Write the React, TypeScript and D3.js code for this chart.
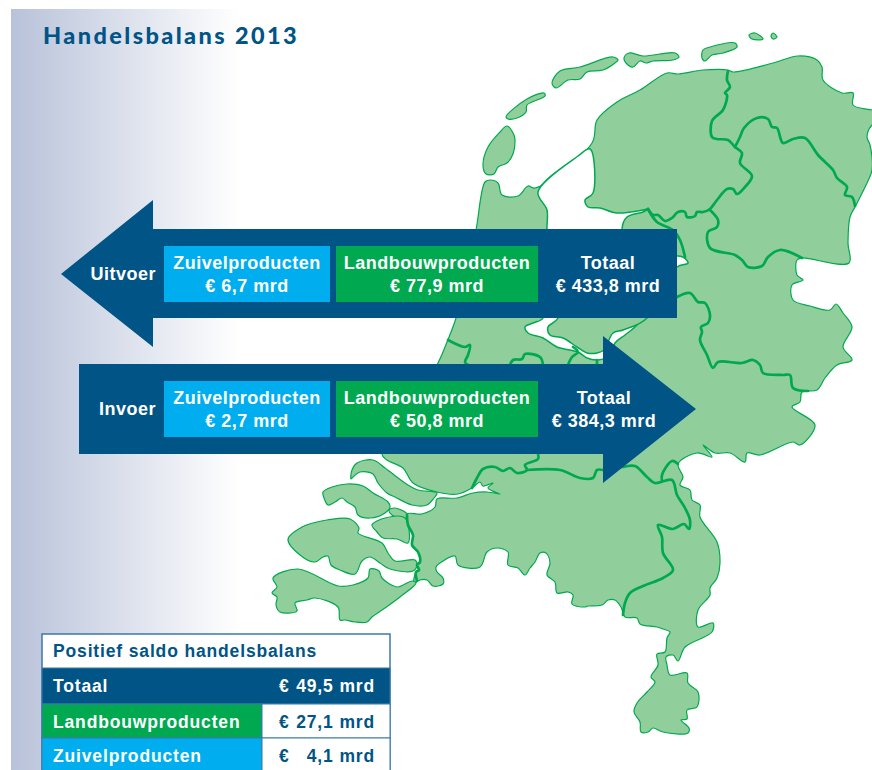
import React from "react";
import * as d3 from "d3";

type Pt = [number, number];

// traced province map of the Netherlands, in picture pixels
const mainland: Pt[] = [
  [592,143],[597,120],[617,102],[640,90],[667,73],[678,74],[703,70],[728,70],[733,72],[773,63],[798,56],[817,60],[822,67],[823,80],[842,93],[853,93],[853,105],[872,110],[882,112],[882,120],[872,125],[867,137],[870,145],[872,170],[867,183],[855,207],[850,217],[848,243],[849,263],
  [802,258],[797,260],[797,275],[803,280],[792,285],[793,300],[810,306],[830,310],[836,304],[843,313],[852,327],[843,347],[852,360],[837,365],[825,378],[817,390],[802,392],[800,402],[792,407],[815,425],[800,445],[793,442],[760,455],[747,453],[745,462],[730,453],[715,453],[703,445],[712,457],[697,453],[678,464],[683,477],[680,485],[690,490],[692,500],[700,505],[700,517],
  [717,542],[720,563],[717,578],[710,588],[710,595],[698,610],[698,627],[713,623],[712,632],[685,647],[678,661],[673,655],[666,657],[667,665],[670,675],[687,673],[688,683],[698,692],[697,707],[687,710],[687,719],[681,720],[689,728],[688,733],[663,732],[653,728],[648,732],[641,732],[640,722],[634,712],[637,703],[647,692],[655,682],[651,677],[658,665],[657,654],[665,652],[667,638],[670,632],[663,629],[657,627],[640,624],[637,618],[625,617],[621,607],[615,600],[608,600],[602,605],[588,606],[585,607],[572,604],[573,595],[568,592],[557,593],[555,582],[547,575],[550,563],[546,553],[540,553],[535,562],[530,568],[525,575],[518,568],[508,565],[508,552],[497,548],[487,552],[480,567],[458,565],[455,556],[440,563],[436,567],[437,572],[443,578],[443,584],[433,586],[427,580],[420,580],[414,583],
  [416,572],[419,570],[417,565],[420,562],[418,552],[412,545],[413,535],[408,525],[407,514],[422,514],[435,507],[437,499],[457,498],[473,493],[487,492],[500,494],[495,492],[488,488],[493,483],[483,486],[480,482],[472,488],[458,494],[437,492],[413,483],[403,468],[387,460],[382,454],
  [438,363],[447,342],[456,318],[467,270],[476,230],[485,182],[490,180],[498,183],[502,195],[518,196],[528,186],[535,188],
];
const lake: Pt[] = [
  [538,192],[578,156],[590,149],[593,193],[585,200],[588,207],[600,208],[617,213],[643,210],[648,209],[643,212],[627,217],[622,229],[626,245],[670,255],[683,257],[688,263],[677,267],[655,300],[637,325],[625,335],[615,343],[610,355],[598,360],[587,358],[578,352],[557,347],[543,338],[528,333],[525,327],[533,323],[543,318],[540,290],[550,250],[547,230],[547,210],
];
const flevoland: Pt[] = [
  [640,262],[562,255],[558,318],[548,327],[550,335],[563,338],[577,347],[587,353],[597,353],[604,350],[613,333],[623,330],[647,318],[664,274],
];
const islands: Pt[][] = [
  [[507,126],[514,135],[515,140],[513,154],[507,163],[498,167],[494,174],[486,174],[483,165],[488,147],[500,132]],
  [[506,117],[527,99],[544,93],[545,96],[527,105],[526,112],[517,118],[508,119]],
  [[552,83],[560,71],[580,67],[613,57],[618,60],[615,63],[603,70],[587,72],[580,79],[568,80],[556,88]],
  [[624,58],[629,53],[643,56],[675,53],[679,57],[673,60],[653,61],[646,63],[640,61],[633,67],[628,65]],
  [[702,58],[703,50],[710,47],[735,43],[737,47],[723,53],[712,55],[705,61]],
  [[749,35],[755,33],[763,39],[752,39]],
  [[771,36],[773,33],[777,37],[773,39]],
  [[351,479],[352,470],[357,463],[373,460],[385,468],[408,485],[418,490],[437,493],[434,498],[427,505],[412,505],[395,497],[387,493],[378,483],[373,474],[360,472],[353,477]],
  [[323,492],[332,487],[347,484],[363,486],[373,493],[388,502],[390,507],[385,513],[370,518],[358,515],[355,507],[347,502],[342,498],[335,502],[328,505],[324,498]],
  [[389,510],[395,508],[407,514],[406,518],[397,517],[392,515]],
  [[372,525],[385,518],[405,518],[408,543],[397,539],[383,538],[377,532]],
  [[288,539],[302,527],[313,523],[327,520],[350,519],[359,528],[358,533],[382,543],[388,553],[395,561],[415,560],[417,565],[413,571],[390,569],[380,563],[370,557],[362,561],[355,574],[340,570],[331,565],[328,556],[323,557],[315,562],[300,555]],
  [[273,578],[298,569],[338,586],[353,585],[368,578],[370,569],[379,571],[382,578],[397,587],[412,581],[416,583],[400,597],[385,608],[372,617],[367,622],[355,622],[345,620],[340,620],[338,607],[315,598],[307,600],[295,603],[297,611],[280,612],[276,605],[277,597],[272,593],[277,587]],
];
const borders: Pt[][] = [
  [[728,71],[727,80],[730,87],[725,93],[727,95],[723,110],[712,121],[712,137],[717,139],[728,140],[735,147],[742,153],[740,163],[752,176],[745,187],[737,194],[733,189],[727,189],[717,200],[710,209],[703,212],[697,212],[695,216],[687,217],[685,212],[678,212],[672,218],[665,221],[658,215],[653,215],[648,209]],
  [[735,147],[740,137],[744,128],[757,118],[768,119],[772,127],[777,128],[783,143],[793,139],[805,138],[818,155],[833,170],[837,178],[847,187],[845,195],[852,197],[855,206]],
  [[710,210],[718,220],[717,227],[708,232],[710,248],[735,255],[742,260],[748,267],[762,266],[768,257],[780,250],[802,258]],
  [[648,209],[657,222],[673,230],[680,240],[685,257]],
  [[677,297],[690,293],[698,302],[705,303],[710,315],[708,323],[701,327],[702,332],[700,340],[707,355],[713,368],[718,362],[742,363],[753,360],[760,365],[763,373],[783,375],[790,375],[793,388],[808,391]],
  [[448,340],[465,347],[470,345],[468,355],[465,362],[468,365]],
  [[510,365],[513,360],[522,359],[525,354],[540,357],[543,365]],
  [[568,365],[572,357],[578,352],[573,347]],
  [[597,360],[597,365]],
  [[538,454],[538,459],[525,465],[527,470],[517,473],[510,468],[503,471],[495,467],[483,469],[477,478],[472,488]],
  [[527,470],[560,470],[580,478],[593,478],[597,470],[603,470]],
  [[623,467],[635,466],[647,477],[655,483],[672,480],[677,495],[685,508],[690,520],[689,529],[684,524],[673,529],[658,525],[662,537],[663,553],[673,570],[663,578],[643,586],[630,593],[625,603],[623,615]],
  [[662,481],[662,475],[672,461],[678,464]],
  [[407,515],[408,525],[413,535],[412,545],[418,552],[420,562],[417,565],[419,570],[416,572],[417,581]],
];

// figures, in billion euro
const flowNames = ["Uitvoer", "Invoer"];
const dairyValues = [6.7, 2.7];
const farmValues = [77.9, 50.8];
const totalValues = [433.8, 384.3];
const dairyLabel = "Zuivelproducten";
const farmLabel = "Landbouwproducten";
const totalLabel = "Totaal";

const balanceTitle = "Positief saldo handelsbalans";
const balanceRows = [totalLabel, farmLabel, dairyLabel];
const balanceValues = [49.5, 27.1, 4.1];

const navy = "#015486";
const cyan = "#00aeef";
const green = "#00a94f";
const land = "#90cf9b";

const closed = d3.line().curve(d3.curveCatmullRomClosed.alpha(0.5));
const open = d3.line().curve(d3.curveCatmullRom.alpha(0.5));
const straight = d3.line();

const amount = (v: number) => v.toFixed(1).replace(".", ",");
const euro = (v: number) => `€ ${amount(v)} mrd`;

const txt: React.CSSProperties = {
  fontFamily: "'Liberation Sans', Arial, sans-serif",
  fontWeight: 700,
  fontSize: 18,
  letterSpacing: 0.5,
};

function Box(props: { x: number; y: number; w: number; fill: string; label: string; value: number }) {
  const { x, y, w, fill, label, value } = props;
  return (
    <g>
      <rect x={x} y={y} width={w} height={56} fill={fill} />
      <text x={x + w / 2} y={y + 23} textAnchor="middle" fill="#fff" style={txt}>{label}</text>
      <text x={x + w / 2} y={y + 46} textAnchor="middle" fill="#fff" style={txt}>{euro(value)}</text>
    </g>
  );
}

export default function App() {
  const arrowLeft: Pt[] = [[61,274],[153,200],[153,229],[677,229],[677,318],[153,318],[153,347]];
  const arrowRight: Pt[] = [[79,364],[603,364],[603,336],[696,409],[603,483],[603,454],[79,454]];
  const boxY = [246, 381];
  const totalX = [608, 604];
  const rowY = d3.scaleOrdinal<string, number>().domain(balanceRows).range([668, 704, 738]);
  const rowH = d3.scaleOrdinal<string, number>().domain(balanceRows).range([36, 34, 40]);
  const rowFill = d3.scaleOrdinal<string, string>().domain(balanceRows).range([navy, green, cyan]);

  return (
    <svg width={872} height={770} style={{ position: "absolute", left: 0, top: 0, background: "#fff" }}>
      <defs>
        <linearGradient id="side" x1="0" x2="1" y1="0" y2="0">
          <stop offset="0" stopColor="#b8c2d9" />
          <stop offset="1" stopColor="#ffffff" />
        </linearGradient>
      </defs>
      <rect x={11} y={9} width={228} height={761} fill="url(#side)" />
      <text x={43} y={44} fill={navy} style={{ fontFamily: "Lato, sans-serif", fontWeight: 900, fontSize: 23.5, letterSpacing: 2.4 }}>
        Handelsbalans 2013
      </text>

      {/* map */}
      <g fill={land} stroke={green} strokeWidth={1.2} strokeLinejoin="round">
        <path d={closed(mainland) ?? ""} />
        {islands.map((d, i) => <path key={i} d={closed(d) ?? ""} />)}
        <path d={closed(lake) ?? ""} fill="#fff" strokeWidth={1.5} />
        <path d={closed(flevoland) ?? ""} strokeWidth={1.5} />
      </g>
      <g fill="none" stroke={green} strokeWidth={2.7} strokeLinejoin="round" strokeLinecap="round">
        {borders.map((d, i) => <path key={i} d={open(d) ?? ""} />)}
      </g>

      {/* arrows */}
      <path d={(straight(arrowLeft) ?? "") + "Z"} fill={navy} />
      <path d={(straight(arrowRight) ?? "") + "Z"} fill={navy} />
      {flowNames.map((name, i) => (
        <g key={name}>
          <text x={156} y={boxY[i] + 34} textAnchor="end" fill="#fff" style={txt}>{name}</text>
          <Box x={164} y={boxY[i]} w={166} fill={cyan} label={dairyLabel} value={dairyValues[i]} />
          <Box x={336} y={boxY[i]} w={202} fill={green} label={farmLabel} value={farmValues[i]} />
          <text x={totalX[i]} y={boxY[i] + 23} textAnchor="middle" fill="#fff" style={txt}>{totalLabel}</text>
          <text x={totalX[i]} y={boxY[i] + 46} textAnchor="middle" fill="#fff" style={txt}>{euro(totalValues[i])}</text>
        </g>
      ))}

      {/* saldo table */}
      <g style={{ ...txt, fontSize: 17.5, letterSpacing: 0.85 }}>
        <rect x={42} y={634} width={348} height={150} fill="#fff" stroke="#3a7aa6" strokeWidth={1.5} />
        <text x={53} y={657} fill={navy}>{balanceTitle}</text>
        {balanceRows.map((row, i) => {
          const y = rowY(row);
          const isTotal = i === 0;
          return (
            <g key={row}>
              <rect x={42} y={y} width={isTotal ? 348 : 220} height={rowH(row)} fill={rowFill(row)} stroke="#3a7aa6" strokeWidth={1} />
              {!isTotal && <rect x={262} y={y} width={128} height={rowH(row)} fill="#fff" stroke="#3a7aa6" strokeWidth={1} />}
              <text x={53} y={y + 24} fill="#fff">{row}</text>
              <text x={279} y={y + 24} fill={isTotal ? "#fff" : navy}>€</text>
              <text x={375} y={y + 24} textAnchor="end" fill={isTotal ? "#fff" : navy}>{amount(balanceValues[i])} mrd</text>
            </g>
          );
        })}
      </g>
    </svg>
  );
}
